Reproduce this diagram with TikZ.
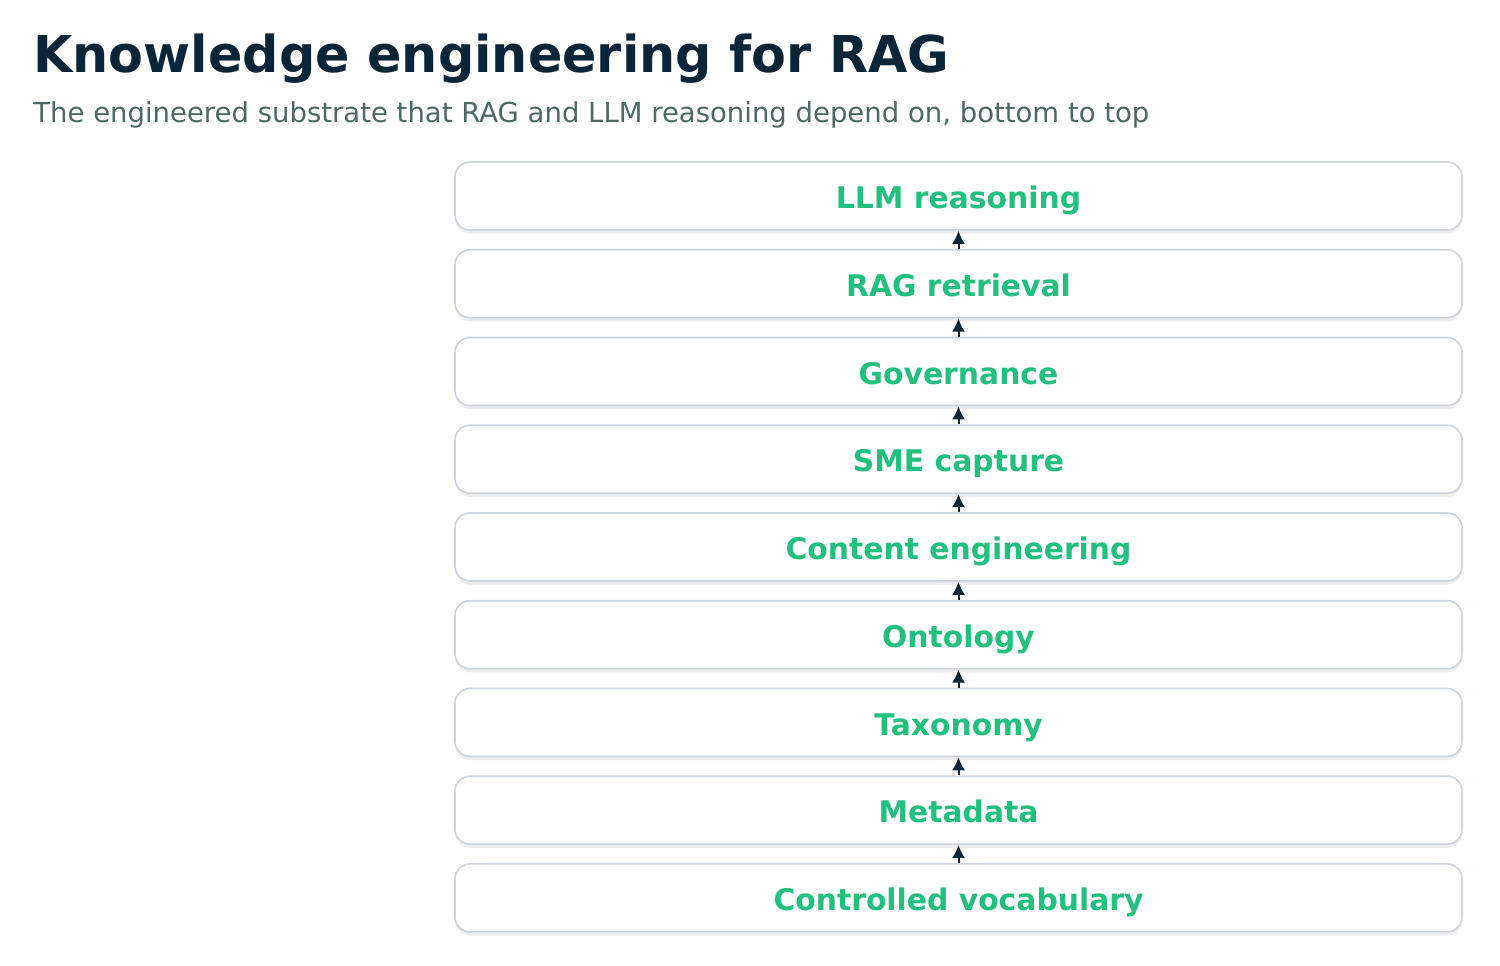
\documentclass[tikz,border=0pt]{standalone}
\usepackage{fontspec}
\setmainfont{DejaVu Sans}
\usetikzlibrary{positioning,shadows,arrows.meta}
\definecolor{navy}{HTML}{0B2538}
\definecolor{subgray}{HTML}{4E6863}
\definecolor{layergreen}{HTML}{22C07F}
\definecolor{edgegray}{HTML}{CDD4DC}
\begin{document}
\begin{tikzpicture}[x=0.5pt,y=-0.5pt,
  layer/.style={draw=edgegray, line width=0.8pt, rounded corners=7.5pt, fill=white,
    minimum width=503.5pt, minimum height=34pt, inner sep=0pt,
    text height=12.6pt, text depth=0pt,
    font=\fontsize{14.9}{17}\selectfont\bfseries, text=layergreen,
    drop shadow={opacity=0.14, shadow xshift=0pt, shadow yshift=-1.8pt}},
  up/.style={-{Latex[length=6.5pt,width=6.5pt]}, navy, line width=1pt},
  node distance=9.07pt]
\useasboundingbox (0,0) rectangle (1500,965);
\fill[white] (0,0) rectangle (1500,965);
% title and subtitle
\node[anchor=base west, inner sep=0pt, text=navy, font=\fontsize{25.4}{30}\selectfont\bfseries] (title) at (33,72) {Knowledge engineering for RAG};
\node[anchor=base west, inner sep=0pt, text=subgray, font=\fontsize{13.75}{16}\selectfont] (subtitle) at (33,122) {The engineered substrate that RAG and LLM reasoning depend on, bottom to top};
% layers, top to bottom
\node[layer] (llm) at (958.5,196) {LLM reasoning};
\node[layer, below=of llm] (rag) {RAG retrieval};
\node[layer, below=of rag] (gov) {Governance};
\node[layer, below=of gov] (sme) {SME capture};
\node[layer, below=of sme] (content) {Content engineering};
\node[layer, below=of content] (onto) {Ontology};
\node[layer, below=of onto] (taxo) {Taxonomy};
\node[layer, below=of taxo] (meta) {Metadata};
\node[layer, below=of meta] (vocab) {Controlled vocabulary};
% arrows, bottom to top
\draw[up] (vocab) -- (meta);
\draw[up] (meta) -- (taxo);
\draw[up] (taxo) -- (onto);
\draw[up] (onto) -- (content);
\draw[up] (content) -- (sme);
\draw[up] (sme) -- (gov);
\draw[up] (gov) -- (rag);
\draw[up] (rag) -- (llm);
\end{tikzpicture}
\end{document}
